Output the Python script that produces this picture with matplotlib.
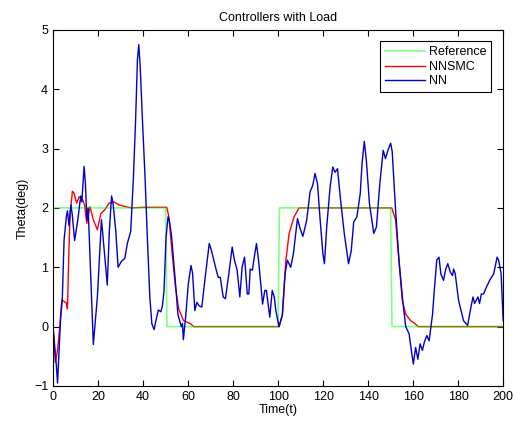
import matplotlib
matplotlib.use('Agg')
import matplotlib.pyplot as plt

# Reference step signal
ref_t = [0, 50, 50.6, 100, 100.6, 150, 150.6, 200]
ref_y = [2, 2, 0, 0, 2, 2, 0, 0]

# NNSMC response
smc_t = [0, 1, 2, 3, 3.9, 5.9, 6.4, 7.1, 7.6, 8.6, 9.3, 10.5, 11.6, 13, 14, 15, 16.4,
         17.9, 19.7, 21.2, 23, 24.9, 27.1, 29.3, 32.3, 35, 40, 50.5, 51.5, 53, 54.3,
         55.8, 58, 61, 62.5, 100.5, 101.9, 103.4, 104.9, 107.1, 109.3, 110.5, 150.5,
         152.2, 153.7, 155.2, 156.7, 158.9, 160.1, 162.3, 200]
smc_y = [0, -0.6, -0.4, 0.0, 0.45, 0.4, 0.3, 1.35, 1.9, 2.28, 2.25, 2.08, 2.19, 2.15,
         2.05, 1.74, 2.02, 1.8, 1.63, 1.9, 1.97, 2.08, 2.1, 2.05, 2.02, 2.0, 2.01, 2.01,
         1.85, 1.2, 0.7, 0.3, 0.1, 0.05, 0, 0, 0.2, 1.1, 1.57, 1.85, 2.0, 2.0, 2.0,
         1.8, 1.12, 0.44, 0.21, 0.1, 0.07, 0, 0]

# NN response
nn_t = [0, 1.5, 2, 2.7, 3.4, 4.1, 4.9, 5.9, 6.4, 7.1, 7.9, 8.5, 9.6, 11, 12.3, 12.8,
        13.8, 14.4, 15, 15.6, 17.9, 19.7, 21.5, 22, 24.1, 25, 26, 26.6, 27.9, 28.9,
        30.4, 31.9, 33, 34.5, 35.7, 36.7, 37.5, 38.1, 38.7, 39.7, 40.9, 41.9, 43,
        43.9, 44.9, 46, 46.8, 47.9, 48.6, 49.3, 50.2, 51.1, 51.6, 52.6, 54.3, 55.5,
        57, 57.5, 57.9, 59, 60.1, 61.3, 62, 63, 63.9, 64.9, 66.1, 67.6, 69.4, 70.4,
        72.4, 73.4, 74.3, 75.6, 76.6, 78.1, 79.6, 80.6, 81.8, 83, 84, 85.1, 86.3, 87,
        87.6, 88.6, 89.4, 90.4, 91.3, 92.3, 93.1, 94.1, 94.8, 96.3, 97.4, 98.3, 99,
        100.4, 101.9, 103.1, 104.1, 105.6, 106.8, 108.6, 109.8, 111, 112.7, 114.2,
        115.4, 116.4, 117.5, 118.7, 119.9, 120.6, 121.6, 123.1, 124.3, 125.3, 126.4,
        127.6, 129.4, 131.3, 132.5, 133.6, 135, 136.5, 137.3, 138.3, 139.2, 140.6,
        142.5, 143.7, 145.2, 146.7, 147.7, 148.8, 150, 150.7, 152.2, 153.7, 155.2,
        156.7, 158.2, 159.2, 160.1, 161.1, 162.1, 163.1, 164.1, 165, 166.1, 167.1,
        168, 168.6, 169.5, 170.5, 171.5, 172.3, 173.5, 174.5, 175.4, 176.5, 177.5,
        178, 178.7, 180.2, 182.4, 184.2, 185.7, 186.6, 187.3, 188, 188.8, 189.5,
        190.3, 191.3, 192.5, 194, 195.8, 197.3, 198, 199.1, 200]
nn_y = [0, -0.67, -0.95, -0.4, 0.17, 0.45, 1.46, 1.85, 1.95, 1.7, 2.05, 1.9, 1.45, 1.8,
        2.2, 2.1, 2.7, 2.4, 1.8, 2.0, -0.3, 0.5, 1.8, 1.6, 0.7, 1.6, 2.2, 2.1, 1.6, 1.0,
        1.1, 1.15, 1.4, 1.6, 2.5, 3.5, 4.5, 4.75, 4.4, 3.5, 2.5, 1.5, 0.5, 0.05, -0.05,
        0.15, 0.28, 0.25, 0.35, 0.6, 1.5, 1.85, 1.8, 1.55, 0.78, 0.2, 0, 0.05, -0.22,
        0.2, 0.72, 1.03, 0.9, 0.27, 0.41, 0.35, 0.33, 0.83, 1.4, 1.28, 0.97, 0.83,
        0.83, 0.5, 0.47, 0.89, 1.34, 1.12, 0.95, 0.5, 1.0, 1.17, 0.55, 0.55, 0.97,
        0.95, 1.17, 1.4, 1.12, 0.72, 0.38, 0.61, 0.61, 0.16, 0.61, 0.5, 0.27, 0, 0.2,
        0.89, 1.12, 1.0, 1.23, 1.82, 1.65, 1.52, 1.79, 2.27, 2.38, 2.58, 2.41, 1.79,
        1.23, 1.06, 1.68, 2.35, 2.69, 2.6, 2.66, 2.19, 1.57, 1.06, 1.28, 1.76, 1.85,
        2.24, 2.75, 3.12, 2.81, 2.07, 1.57, 1.68, 2.41, 2.97, 2.83, 2.97, 3.09, 2.95,
        1.96, 1.12, 0.5, 0, -0.12, -0.4, -0.63, -0.35, -0.55, -0.29, -0.4, -0.26,
        -0.15, -0.24, 0.02, 0.2, 0.66, 1.12, 1.17, 0.89, 0.78, 0.97, 1.06, 0.92, 0.86,
        0.97, 0.89, 0.44, 0.1, 0.02, 0.33, 0.5, 0.39, 0.44, 0.5, 0.39, 0.55, 0.55,
        0.66, 0.78, 0.89, 1.17, 1.12, 0.89, 0.1]

plt.rcParams['font.family'] = ['Liberation Sans', 'DejaVu Sans']
plt.rcParams['font.size'] = 9

fig = plt.figure(figsize=(5.15, 4.23), dpi=100)
ax = fig.add_axes([0.103, 0.0875, 0.874, 0.842])

l_smc, = ax.plot(smc_t, smc_y, color='#ff0000', linewidth=1.0, label='NNSMC')
l_ref, = ax.plot(ref_t, ref_y, color='#00ff00', alpha=0.5, linewidth=1.2, label='Reference')
l_nn, = ax.plot(nn_t, nn_y, color='#0000cc', linewidth=1.0, label='NN')

ax.set_xlim(0, 200)
ax.set_ylim(-1, 5)
ax.set_xticks(range(0, 201, 20))
ax.set_yticks(range(-1, 6))
ax.tick_params(direction='in', top=True, right=True, length=4, width=0.8)
for s in ax.spines.values():
    s.set_linewidth(0.8)

ax.set_xlabel('Time(t)', labelpad=1)
ax.set_ylabel('Theta(deg)', labelpad=4)
ax.set_title('Controllers with Load', fontsize=9, pad=6)

leg = ax.legend([l_ref, l_smc, l_nn], ['Reference', 'NNSMC', 'NN'], loc='upper right',
                fancybox=False, framealpha=1, edgecolor='black', borderpad=0.4,
                handlelength=3.2, labelspacing=0.2, handletextpad=0.3,
                bbox_to_anchor=(0.987, 0.985))
leg.get_frame().set_linewidth(0.8)

fig.savefig('out.png', dpi=100)
